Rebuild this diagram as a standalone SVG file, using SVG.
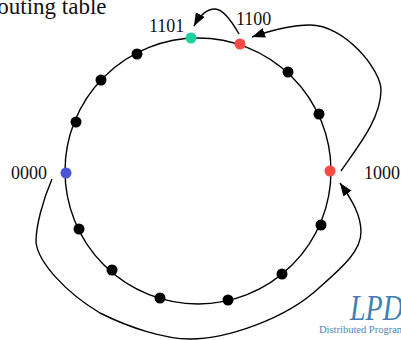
<svg xmlns="http://www.w3.org/2000/svg" width="401" height="340" viewBox="0 0 401 340">
<style>
text{font-family:"Liberation Serif",serif;fill:#111}
.l{font-size:18px}
.c{fill:none;stroke:#000;stroke-width:1.4}
.d{fill:#000}
</style>
<defs><marker id="a" markerUnits="userSpaceOnUse" markerWidth="14" markerHeight="12" refX="13" refY="5" orient="auto"><path d="M0 0L13 5L0 10Z" fill="#000"/></marker></defs>
<rect width="401" height="340" fill="#fff"/>
<text x="-18" y="14" font-size="23">Routing table</text>
<text x="19" y="354" font-size="22">d and S</text>
<circle cx="198" cy="171" r="133" class="c"/>
<g id="connectors">
<path class="c" marker-end="url(#a)" d="M239 34C231 20 223 9 215 9C207 9 200 15 194 26"/>
<path class="c" marker-end="url(#a)" d="M341 171C355 150 381 120 381 90C381 70 345 25 310 25C290 25 272 30 252 37"/>
<path class="c" marker-end="url(#a)" d="M52 179C43 200 36 225 36 242C38 262 65 292 100 313C130 328 165 339 190 339C225 339 285 320 320 287C345 265 361 250 361 232C361 215 352 200 340 183"/>
</g>
<g id="n0000"><circle cx="66" cy="173" r="5.5" fill="#4a55d8"/><text class="l" x="11" y="179">0000</text></g>
<g id="n1101"><circle cx="191" cy="38" r="5.5" fill="#1fd0a0"/><text class="l" x="149" y="32">1101</text></g>
<g id="n1100"><circle cx="240" cy="44" r="5.5" fill="#f94a44"/><text class="l" x="236" y="25">1100</text></g>
<g id="n1000"><circle cx="330" cy="171" r="5.5" fill="#f94a44"/><text class="l" x="364" y="179">1000</text></g>
<g id="others" class="d">
<circle cx="137" cy="54" r="5.5"/><circle cx="101" cy="80" r="5.5"/><circle cx="76" cy="122" r="5.5"/>
<circle cx="288" cy="72" r="5.5"/><circle cx="319" cy="114" r="5.5"/><circle cx="321" cy="225" r="5.5"/>
<circle cx="282" cy="274" r="5.5"/><circle cx="228" cy="300" r="5.5"/><circle cx="160" cy="298" r="5.5"/>
<circle cx="112" cy="270" r="5.5"/><circle cx="79" cy="229" r="5.5"/>
</g>
<text transform="translate(350 320) scale(.8 1)" font-family="Open Sans,sans-serif" font-style="italic" font-weight="300" font-size="35" style="fill:#3f7fb5">LPD</text>
<text x="319" y="333" font-family="Open Sans,sans-serif" font-size="10.5" style="fill:#4f86b8">Distributed Programming</text>
</svg>
